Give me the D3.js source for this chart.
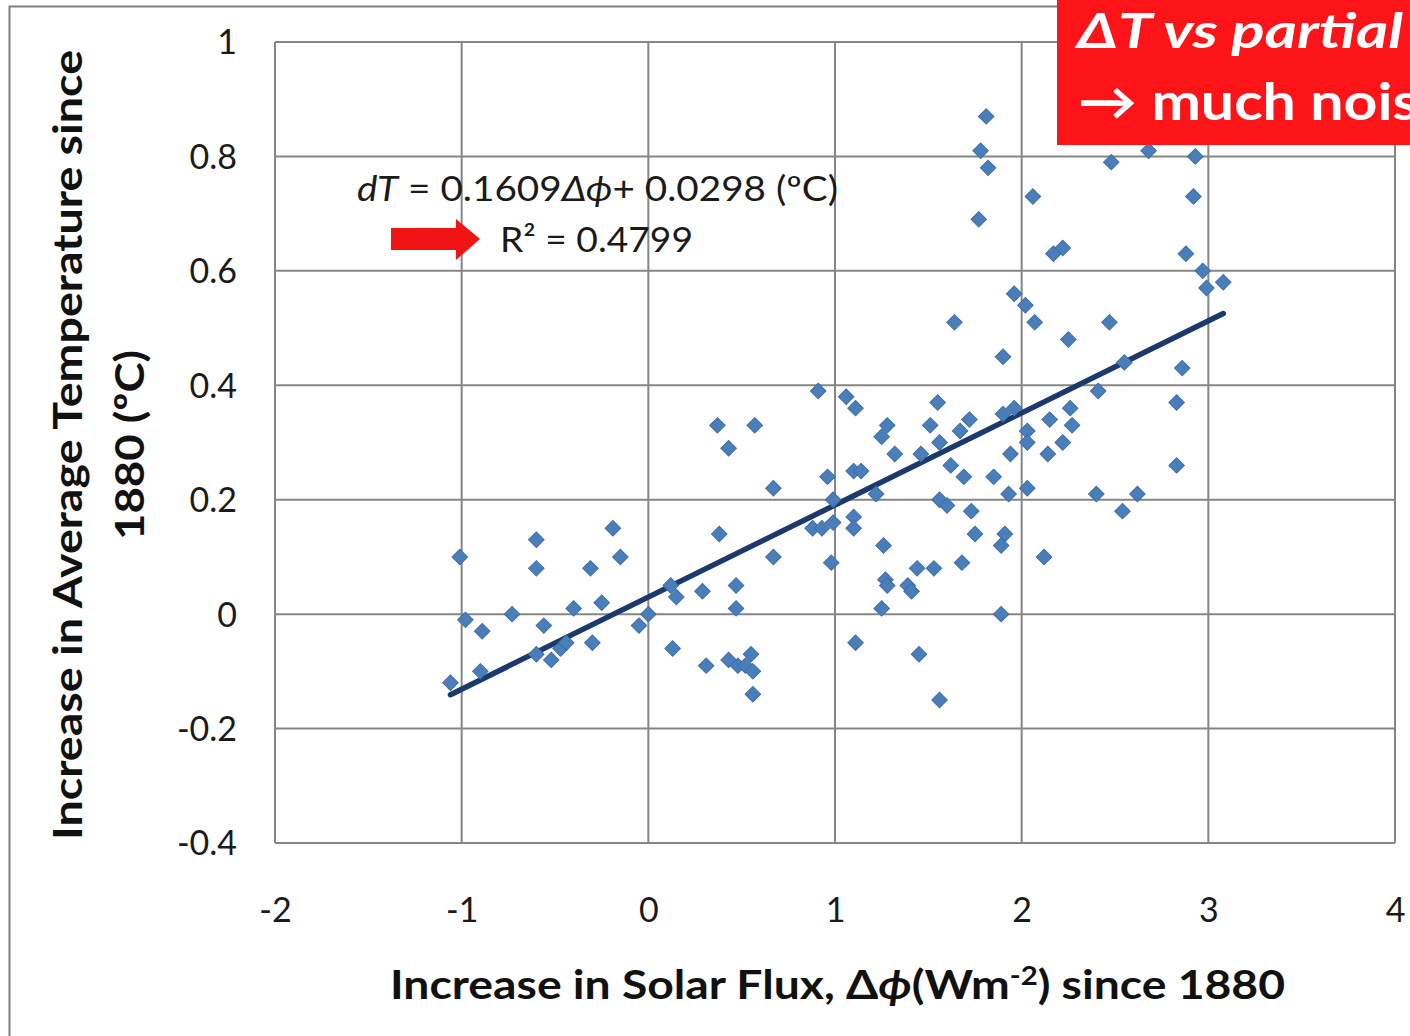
<!DOCTYPE html>
<html>
<head>
<meta charset="utf-8">
<script src="https://cdn.jsdelivr.net/npm/d3@7"></script>
<style>
  html, body { margin: 0; padding: 0; background: #fff; overflow: hidden; }
  svg { display: block; font-family: Lato, "Open Sans", sans-serif; }
</style>
</head>
<body>
<div id="chart"></div>
<script>
// scatter values (x = solar flux change, y = temperature change)
const fluxValues = [
  -1.06, -1.01, -0.98, -0.89, -0.90, -0.73, -0.60, -0.60, -0.56, -0.60,
  -0.52, -0.47, -0.44, -0.40, -0.31, -0.25, -0.30, -0.19, -0.15, -0.05,
   0.00,  0.12,  0.15,  0.13,  0.37,  0.57,  0.43,  0.67,  0.96,  1.10,
   0.99,  0.38,  0.88,  0.93,  0.99,  1.10,  1.10,  0.67,  0.98,  0.47,
   0.29,  0.47,  0.31,  0.43,  0.48,  0.52,  0.55,  0.56,  0.56,  1.11,
   0.91,  1.06,  1.11,  1.28,  1.25,  1.32,  1.55,  1.51,  1.56,  1.67,
   1.72,  1.46,  1.62,  1.69,  1.85,  1.14,  1.22,  1.56,  1.60,  1.73,
   1.75,  1.26,  1.44,  1.53,  1.68,  1.27,  1.28,  1.39,  1.41,  1.25,
   1.45,  1.56,  1.81,  1.78,  1.82,  1.77,  2.06,  2.17,  2.22,  2.48,
   1.96,  2.02,  2.07,  1.64,  2.25,  2.47,  1.90,  2.55,  2.41,  1.90,
   1.96,  2.26,  2.15,  2.27,  2.03,  2.03,  2.22,  1.94,  2.14,  1.93,
   2.03,  2.40,  2.54,  1.91,  1.89,  2.12,  1.89,  2.68,  2.93,  2.92,
   2.88,  2.97,  2.99,  3.08,  2.86,  2.83,  2.83,  2.62
];
const tempValues = [
  -0.12,  0.10, -0.01, -0.03, -0.10,  0.00,  0.13,  0.08, -0.02, -0.07,
  -0.08, -0.06, -0.05,  0.01,  0.08,  0.02, -0.05,  0.15,  0.10, -0.02,
   0.00,  0.05,  0.03, -0.06,  0.33,  0.33,  0.29,  0.22,  0.24,  0.25,
   0.20,  0.14,  0.15,  0.15,  0.16,  0.17,  0.15,  0.10,  0.09,  0.05,
   0.04,  0.01, -0.09, -0.08, -0.09, -0.09, -0.07, -0.10, -0.14, -0.05,
   0.39,  0.38,  0.36,  0.33,  0.31,  0.28,  0.37,  0.33,  0.30,  0.32,
   0.34,  0.28,  0.26,  0.24,  0.24,  0.25,  0.21,  0.20,  0.19,  0.18,
   0.14,  0.12,  0.08,  0.08,  0.09,  0.06,  0.05,  0.05,  0.04,  0.01,
  -0.07, -0.15,  0.87,  0.81,  0.78,  0.69,  0.73,  0.63,  0.64,  0.79,
   0.56,  0.54,  0.51,  0.51,  0.48,  0.51,  0.45,  0.44,  0.39,  0.35,
   0.36,  0.36,  0.34,  0.33,  0.32,  0.30,  0.30,  0.28,  0.28,  0.21,
   0.22,  0.21,  0.18,  0.14,  0.12,  0.10,  0.00,  0.81,  0.80,  0.73,
   0.63,  0.60,  0.57,  0.58,  0.43,  0.37,  0.26,  0.21
];
const xTicks = [-2, -1, 0, 1, 2, 3, 4];
const yTicks = [-0.4, -0.2, 0, 0.2, 0.4, 0.6, 0.8, 1];
const fitSlope = 0.1609;
const fitIntercept = 0.0298;
const fitRange = [-1.06, 3.08];

const W = 1410, H = 1036;
const plot = {left: 275, right: 1395, top: 42, bottom: 843};

const svg = d3.select("#chart").append("svg")
  .attr("width", W)
  .attr("height", H);

// outer chart frame (runs off the right/bottom of the page)
svg.append("rect")
  .attr("x", 9.5).attr("y", 6.5)
  .attr("width", W + 20).attr("height", H + 20)
  .attr("fill", "none")
  .attr("stroke", "#7f7f7f")
  .attr("stroke-width", 2);

const x = d3.scaleLinear().domain([-2, 4]).range([plot.left, plot.right]);
const y = d3.scaleLinear().domain([-0.4, 1]).range([plot.bottom, plot.top]);

// gridlines
const grid = svg.append("g").attr("stroke", "#868686").attr("stroke-width", 2);
grid.selectAll("line.v")
  .data(xTicks)
  .enter().append("line")
    .attr("x1", d => x(d)).attr("x2", d => x(d))
    .attr("y1", plot.top).attr("y2", plot.bottom);
grid.selectAll("line.h")
  .data(yTicks)
  .enter().append("line")
    .attr("y1", d => y(d)).attr("y2", d => y(d))
    .attr("x1", plot.left).attr("x2", plot.right);

// plain hyphen for negatives, like the original spreadsheet
const hyphen = s => String(s).replace("\u2212", "-");

// axes, labels only
const xAxis = svg.append("g")
  .attr("transform", `translate(0, ${plot.bottom})`)
  .call(d3.axisBottom(x).tickValues(xTicks).tickSize(0).tickPadding(55)
    .tickFormat(d => hyphen(d3.format("d")(d))));
const yAxis = svg.append("g")
  .attr("transform", `translate(${plot.left}, 0)`)
  .call(d3.axisLeft(y).tickValues(yTicks).tickSize(0).tickPadding(38)
    .tickFormat(d => hyphen(+d.toFixed(1))));
[xAxis, yAxis].forEach(a => {
  a.select(".domain").remove();
  a.selectAll("text")
    .attr("font-family", "Lato, sans-serif")
    .attr("font-size", 34)
    .attr("fill", "#1a1a1a");
});
yAxis.selectAll("text").attr("dy", "0.35em");

// regression line
svg.append("line")
  .attr("x1", x(fitRange[0])).attr("y1", y(fitSlope * fitRange[0] + fitIntercept))
  .attr("x2", x(fitRange[1])).attr("y2", y(fitSlope * fitRange[1] + fitIntercept))
  .attr("stroke", "#1b3a6b")
  .attr("stroke-width", 5.5)
  .attr("stroke-linecap", "round");

// diamond markers
const diamond = d3.symbol().type(d3.symbolSquare).size(120);
svg.append("g").selectAll("path")
  .data(fluxValues.map((v, i) => [v, tempValues[i]]))
  .enter().append("path")
    .attr("d", diamond)
    .attr("transform", d => `translate(${x(d[0])},${y(d[1])}) rotate(45)`)
    .attr("fill", "#4a7ebb")
    .attr("stroke", "#3f6fa8")
    .attr("stroke-width", 1);

// equation annotation
const eq = svg.append("text")
  .attr("x", 357).attr("y", 201)
  .attr("font-family", "Lato, sans-serif")
  .attr("font-size", 35)
  .attr("fill", "#1a1a1a")
  .attr("textLength", 481)
  .attr("lengthAdjust", "spacingAndGlyphs");
eq.append("tspan").attr("font-style", "italic").text("dT");
eq.append("tspan").text(" = 0.1609");
eq.append("tspan").attr("font-style", "italic").text("Δϕ");
eq.append("tspan").text("+ 0.0298  (ºC)");

svg.append("text")
  .attr("x", 500).attr("y", 252)
  .attr("font-family", "Lato, sans-serif")
  .attr("font-size", 35)
  .attr("fill", "#1a1a1a")
  .attr("textLength", 193)
  .attr("lengthAdjust", "spacingAndGlyphs")
  .text("R² = 0.4799");

// red arrow pointing at R²
svg.append("path")
  .attr("d", "M391,228 L456,228 L456,219 L480,239 L456,260 L456,250 L391,250 Z")
  .attr("fill", "#f01414");

// axis titles
svg.append("text")
  .attr("x", 390)
  .attr("y", 999)
  .attr("font-family", "Lato, sans-serif")
  .attr("font-weight", "bold")
  .attr("font-size", 41)
  .attr("fill", "#111")
  .attr("textLength", 895)
  .attr("lengthAdjust", "spacingAndGlyphs")
  .call(t => {
    t.append("tspan").text("Increase in Solar Flux, Δ");
    t.append("tspan").attr("font-style", "italic").text("ϕ");
    t.append("tspan").text("(Wm");
    t.append("tspan").attr("font-size", 26).attr("dy", -14).text("-2");
    t.append("tspan").attr("dy", 14).text(") since 1880");
  });

const yTitle = svg.append("g").attr("transform", "translate(82, 445) rotate(-90)");
yTitle.append("text")
  .attr("x", -395).attr("y", 0)
  .attr("font-family", "Lato, sans-serif")
  .attr("font-weight", "bold")
  .attr("font-size", 41)
  .attr("fill", "#111")
  .attr("textLength", 790)
  .attr("lengthAdjust", "spacingAndGlyphs")
  .text("Increase in Average Temperature since");
yTitle.append("text")
  .attr("x", -95).attr("y", 62)
  .attr("font-family", "Lato, sans-serif")
  .attr("font-weight", "bold")
  .attr("font-size", 41)
  .attr("fill", "#111")
  .attr("textLength", 190)
  .attr("lengthAdjust", "spacingAndGlyphs")
  .text("1880 (ºC)");

// red callout box, cut off by the page edge as in the source slide
svg.append("rect")
  .attr("x", 1057).attr("y", 0)
  .attr("width", 400).attr("height", 145)
  .attr("fill", "#fc1419");
svg.append("text")
  .attr("x", 1077).attr("y", 48)
  .attr("font-family", "Lato, sans-serif")
  .attr("font-weight", "bold")
  .attr("font-style", "italic")
  .attr("font-size", 47)
  .attr("fill", "#fff")
  .attr("textLength", 326)
  .attr("lengthAdjust", "spacingAndGlyphs")
  .text("ΔT vs partial");
svg.append("text")
  .attr("x", 1078).attr("y", 120)
  .attr("font-family", "Lato, sans-serif")
  .attr("font-weight", "bold")
  .attr("font-size", 52)
  .attr("fill", "#fff")
  .attr("textLength", 372)
  .attr("lengthAdjust", "spacingAndGlyphs")
  .text("→ much noise");
</script>
</body>
</html>
